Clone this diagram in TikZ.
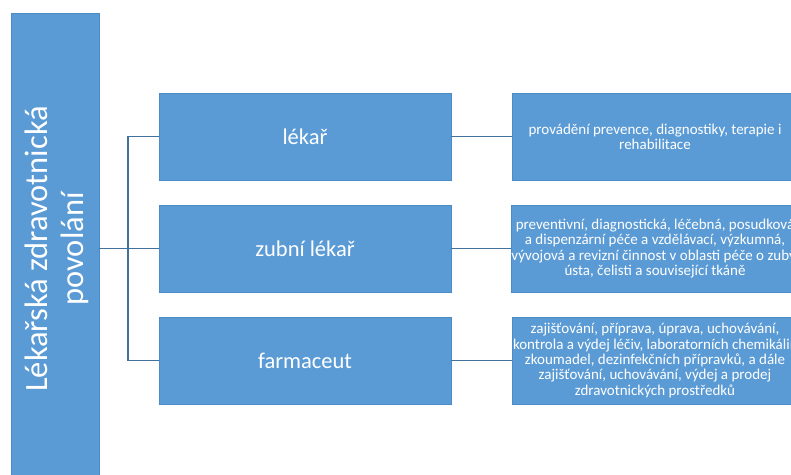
\documentclass[tikz,border=0pt]{standalone}
\usepackage{fontspec}
\setmainfont{Carlito}
\definecolor{boxblue}{HTML}{5B9BD5}
\definecolor{boxedge}{HTML}{4A8BC8}
\definecolor{linkblue}{HTML}{41719C}
\begin{document}
\begin{tikzpicture}[x=1pt,y=-1pt,
  box/.style={rectangle, fill=boxblue, draw=boxedge, line width=0.6pt, inner sep=0pt, text=white, align=center},
  midbox/.style={box, minimum width=292, minimum height=87, font=\fontsize{22.5}{26}\selectfont},
  descbox/.style={box, minimum width=286, minimum height=87, font=\fontsize{15}{15.3}\selectfont},
  link/.style={draw=linkblue, line width=1.3pt}]
\useasboundingbox (0,0) rectangle (791,474);
\clip (0,0) rectangle (791,474);
\node[box, minimum width=88, minimum height=467] (bar) at (55,246.5) {};
\node[rotate=90, text=white, align=center, font=\fontsize{32.5}{36}\selectfont] (bartext) at (57,249) {Lékařská zdravotnická\\povolání};
\node[midbox] (m1) at (305,136.5) {lékař};
\node[midbox] (m2) at (305,248.5) {zubní lékař};
\node[midbox] (m3) at (305,360.5) {farmaceut};
\node[descbox] (d1) at (655,136.5) {provádění prevence, diagnostiky, terapie i\\rehabilitace};
\node[descbox] (d2) at (655,248.5) {preventivní, diagnostická, léčebná, posudková\\a dispenzární péče a vzdělávací, výzkumná,\\vývojová a revizní činnost v oblasti péče o zuby,\\ústa, čelisti a související tkáně};
\node[descbox] (d3) at (655,360.5) {zajišťování, příprava, úprava, uchovávání,\\kontrola a výdej léčiv, laboratorních chemikálií,\\zkoumadel, dezinfekčních přípravků, a dále\\zajišťování, uchovávání, výdej a prodej\\zdravotnických prostředků};
\coordinate (j) at (128,248.5);
\draw[link] (bar.east |- m2.west) -- (m2.west);
\draw[link] (m1.west) -- (m1.west -| j) -- (m3.west -| j) -- (m3.west);
\draw[link] (m1.east) -- (d1.west);
\draw[link] (m2.east) -- (d2.west);
\draw[link] (m3.east) -- (d3.west);
\end{tikzpicture}
\end{document}
